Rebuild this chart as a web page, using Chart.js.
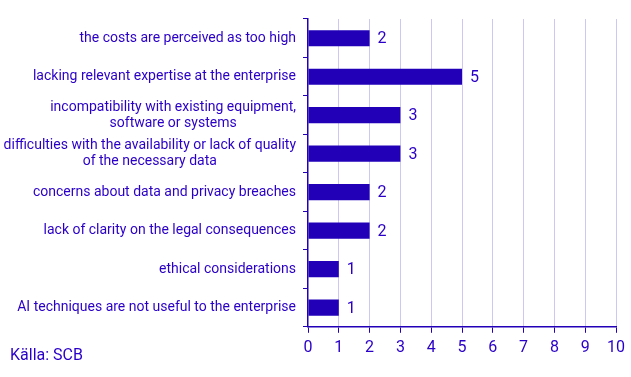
<!DOCTYPE html>
<html>
<head>
<meta charset="utf-8">
<script src="https://cdn.jsdelivr.net/npm/chart.js@4"></script>
<style>
  html, body { margin: 0; padding: 0; background: #fff; }
  #wrap { position: relative; width: 631px; height: 377px; }
  #source { position: absolute; left: 10px; top: 345px; font: 16px Roboto, sans-serif; color: #2a00c8; }
</style>
</head>
<body>
<div id="wrap">
  <canvas id="c" width="631" height="377"></canvas>
  <div id="source">Källa: SCB</div>
</div>
<script>
// ── Data ──
const categories = [
    'the costs are perceived as too high',
    'lacking relevant expertise at the enterprise',
    ['incompatibility with existing equipment,', 'software or systems'],
    ['difficulties with the availability or lack of quality', 'of the necessary data'],
    'concerns about data and privacy breaches',
    'lack of clarity on the legal consequences',
    'ethical considerations',
    'AI techniques are not useful to the enterprise'
];
const values = [2, 5, 3, 3, 2, 2, 1, 1];
const xTicks = [0, 1, 2, 3, 4, 5, 6, 7, 8, 9, 10];

const BAR = '#2200b8';
const TEXT = '#2a00c8';
const GRID = '#cdc8f2';

// value labels next to bars + centred multi-line category labels
const labelsPlugin = {
    id: 'labelsPlugin',
    afterDatasetsDraw(chart) {
        const ctx = chart.ctx;
        const meta = chart.getDatasetMeta(0);
        const yScale = chart.scales.y;
        ctx.save();
        ctx.fillStyle = TEXT;
        ctx.textBaseline = 'middle';
        ctx.font = '16px Roboto, sans-serif';
        meta.data.forEach((bar, i) => {
            ctx.textAlign = 'left';
            ctx.fillText(String(values[i]), bar.x + 8, bar.y + 1);
        });
        ctx.font = '14px Roboto, sans-serif';
        const right = yScale.right - 12;
        const lh = 16;
        categories.forEach((lab, i) => {
            const lines = Array.isArray(lab) ? lab : [lab];
            const w = Math.max(...lines.map(l => ctx.measureText(l).width));
            const cx = right - w / 2;
            const yc = yScale.getPixelForValue(i);
            ctx.textAlign = 'center';
            lines.forEach((l, j) => {
                ctx.fillText(l, cx, yc + (j - (lines.length - 1) / 2) * lh);
            });
        });
        ctx.restore();
    }
};

new Chart(document.getElementById('c'), {
    type: 'bar',
    data: {
        labels: categories,
        datasets: [{
            data: values,
            backgroundColor: BAR,
            barPercentage: 0.42,
            categoryPercentage: 1
        }]
    },
    options: {
        indexAxis: 'y',
        responsive: false,
        animation: false,
        layout: { padding: { top: 19, right: 15, bottom: 13, left: 0 } },
        plugins: { legend: { display: false }, tooltip: { enabled: false } },
        scales: {
            x: {
                min: 0, max: 10,
                afterBuildTicks: s => { s.ticks = xTicks.map(v => ({ value: v })); },
                grid: { color: ctx => ctx.tick && ctx.tick.value === 0 ? 'rgba(0,0,0,0)' : GRID, tickColor: BAR, tickLength: 6, lineWidth: 1 },
                border: { color: BAR, width: 1.5 },
                ticks: { color: TEXT, font: { family: 'Roboto', size: 16 }, padding: 6, maxRotation: 0 }
            },
            y: {
                afterFit: s => { s.width = 308; },
                grid: { offset: true, drawOnChartArea: false, tickColor: BAR, tickLength: 5 },
                border: { color: BAR, width: 1.5 },
                ticks: { color: 'rgba(0,0,0,0)', font: { family: 'Roboto', size: 12 }, padding: 6, autoSkip: false }
            }
        }
    },
    plugins: [labelsPlugin]
});
</script>
</body>
</html>
